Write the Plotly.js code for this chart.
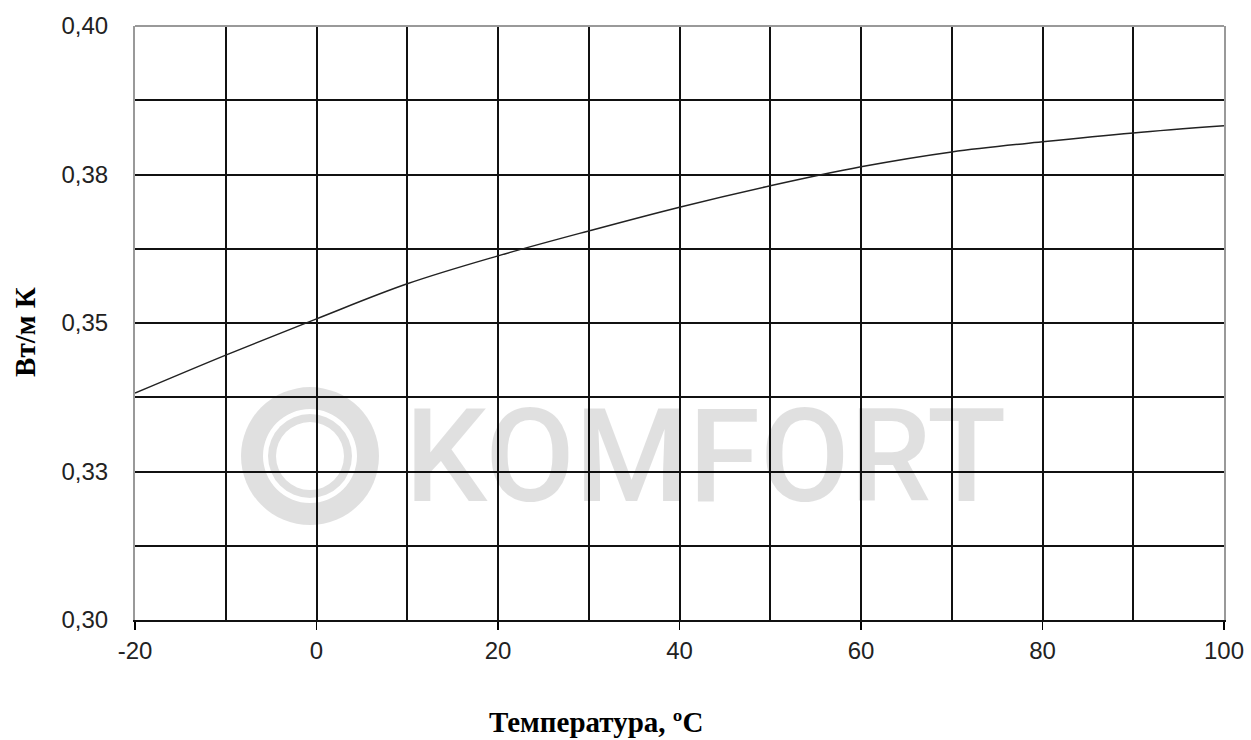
<!DOCTYPE html>
<html>
<head>
<meta charset="utf-8">
<script src="https://cdn.plot.ly/plotly-3.0.1.min.js"></script>
<style>html,body{margin:0;padding:0;background:#fff;}#chart{width:1251px;height:740px;}</style>
</head>
<body>
<div id="chart"></div>
<script>
// Data
const temperature = [-20, -10, 0, 10, 20, 30, 40, 50, 60, 70, 80, 90, 100];
const conductivity = [0.3382, 0.3446, 0.3507, 0.3566, 0.3613, 0.3655, 0.3695, 0.3731, 0.3763, 0.3788, 0.3805, 0.3820, 0.3832];
const yTickVals = [0.30, 0.325, 0.35, 0.375, 0.40];
const yTickText = ['0,30', '0,33', '0,35', '0,38', '0,40'];
const xTickVals = [-20, 0, 20, 40, 60, 80, 100];
const xTickText = ['-20', '0', '20', '40', '60', '80', '100'];

const wm = 'rgba(0,0,0,0.12)';
function ring(r, color) {
  return {type: 'circle', xref: 'paper', yref: 'paper', xsizemode: 'pixel', ysizemode: 'pixel',
    xanchor: 0.1607, yanchor: 0.276, x0: -r, x1: r, y0: -r, y1: r,
    fillcolor: color, line: {width: 0}, layer: 'below'};
}

const trace = {
  x: temperature, y: conductivity, type: 'scatter', mode: 'lines',
  line: {color: '#222', width: 1.5, shape: 'spline'}, hoverinfo: 'skip'
};

const layout = {
  width: 1251, height: 740,
  margin: {l: 135, r: 27, t: 26, b: 120},
  paper_bgcolor: '#fff', plot_bgcolor: 'rgba(0,0,0,0)',
  showlegend: false,
  font: {family: 'Liberation Sans, Arial, sans-serif', size: 24, color: '#222'},
  xaxis: {
    range: [-20, 100], tickmode: 'array', tickvals: xTickVals, ticktext: xTickText,
    ticks: 'outside', ticklen: 8, tickwidth: 1.5, tickcolor: '#000',
    showgrid: true, gridcolor: '#111', gridwidth: 2,
    minor: {dtick: 10, tick0: -20, showgrid: true, gridcolor: '#111', gridwidth: 2, ticks: ''},
    showline: true, linecolor: '#111', linewidth: 2, zeroline: false,
    tickfont: {size: 24, color: '#222'}, fixedrange: true
  },
  yaxis: {
    range: [0.30, 0.40], tickmode: 'array', tickvals: yTickVals, ticktext: yTickText,
    ticks: 'outside', ticklen: 20, tickcolor: 'rgba(0,0,0,0)',
    showgrid: true, gridcolor: '#111', gridwidth: 2,
    minor: {dtick: 0.0125, tick0: 0.30, showgrid: true, gridcolor: '#111', gridwidth: 2, ticks: ''},
    showline: true, linecolor: '#999', linewidth: 2, mirror: true, zeroline: false,
    tickfont: {size: 24, color: '#222'}, fixedrange: true
  },
  shapes: [
    ring(69, wm), ring(47, '#fff'), ring(42, wm), ring(34, '#fff'),
    {type: 'line', xref: 'paper', yref: 'paper', x0: 0, x1: 1, y0: 1, y1: 1,
     line: {color: '#999', width: 2}, layer: 'above'}
  ],
  annotations: [
    {text: 'KOMFORT', xref: 'paper', yref: 'paper', x: 0.524, y: 0.276,
     xanchor: 'center', yanchor: 'middle', showarrow: false,
     font: {family: 'Roboto, Inter, sans-serif', size: 130, color: wm, weight: 500}},
    {text: '<b>Температура, ºC</b>', xref: 'paper', yref: 'paper', x: 0.423, y: -0.172,
     xanchor: 'center', yanchor: 'middle', showarrow: false,
     font: {family: 'Liberation Serif, Times New Roman, serif', size: 29, color: '#000'}},
    {text: '<b>Вт/м К</b>', xref: 'paper', yref: 'paper', x: -0.101, y: 0.485,
     xanchor: 'center', yanchor: 'middle', showarrow: false, textangle: -90,
     font: {family: 'Liberation Serif, Times New Roman, serif', size: 29, color: '#000'}}
  ]
};

Plotly.newPlot('chart', [trace], layout, {displayModeBar: false, staticPlot: true});
</script>
</body>
</html>
